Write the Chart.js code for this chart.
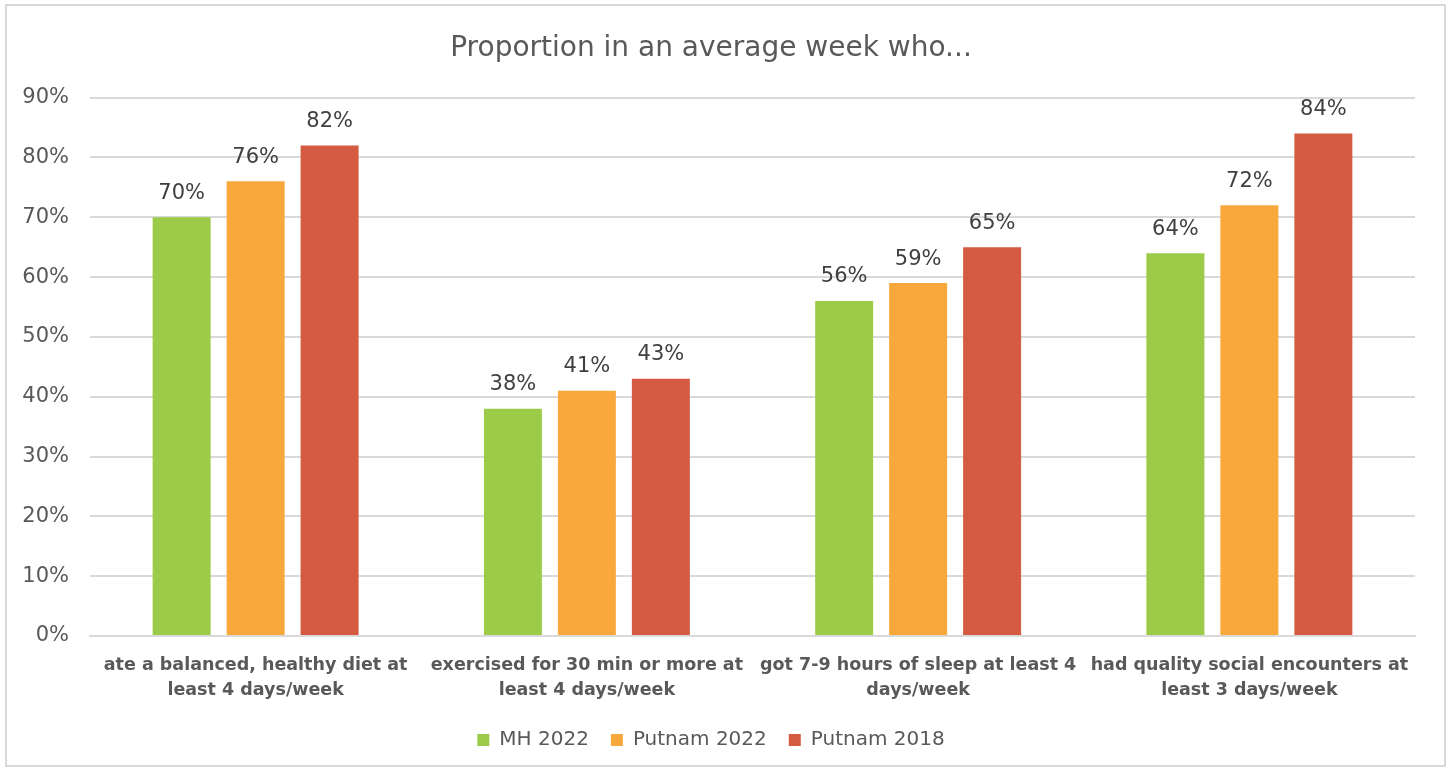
<!DOCTYPE html>
<html>
<head>
<meta charset="utf-8">
<script src="https://cdn.jsdelivr.net/npm/chart.js@4"></script>
<style>
  html, body { margin: 0; padding: 0; background: #fff; }
  #box {
    position: absolute; left: 5px; top: 4px;
    width: 1437px; height: 759px;
    border: 2px solid #d9d9d9;
  }
</style>
</head>
<body>
<div id="box"><canvas id="chart"></canvas></div>
<script>
// data
const categories = [
  ['ate a balanced, healthy diet at', 'least 4 days/week'],
  ['exercised for 30 min or more at', 'least 4 days/week'],
  ['got 7-9 hours of sleep at least 4', 'days/week'],
  ['had quality social encounters at', 'least 3 days/week']
];
const mh2022 = [70, 38, 56, 64];
const putnam2022 = [76, 41, 59, 72];
const putnam2018 = [82, 43, 65, 84];
const yTicks = [0, 10, 20, 30, 40, 50, 60, 70, 80, 90];

const fontFam = '"DejaVu Sans", sans-serif';

// draws the % labels above each bar
const barLabels = {
  id: 'barLabels',
  afterDatasetsDraw(chart) {
    const c = chart.ctx;
    c.save();
    c.font = '21px ' + fontFam;
    c.fillStyle = '#404040';
    c.textAlign = 'center';
    c.textBaseline = 'middle';
    chart.data.datasets.forEach((ds, i) => {
      chart.getDatasetMeta(i).data.forEach((bar, j) => {
        c.fillText(ds.data[j] + '%', bar.x, bar.y - 24);
      });
    });
    c.restore();
  }
};

document.addEventListener('DOMContentLoaded', () => {
  const ctx = document.getElementById('chart');
  new Chart(ctx, {
    type: 'bar',
    data: {
      labels: categories,
      datasets: [
        { label: 'MH 2022', data: mh2022, backgroundColor: '#9ccb4a' },
        { label: 'Putnam 2022', data: putnam2022, backgroundColor: '#f9a93b' },
        { label: 'Putnam 2018', data: putnam2018, backgroundColor: '#d45a41' }
      ]
    },
    options: {
      responsive: true,
      maintainAspectRatio: false,
      animation: false,
      categoryPercentage: 0.67,
      barPercentage: 0.784,
      layout: { padding: { left: 0, right: 29, top: 0, bottom: 5 } },
      scales: {
        x: {
          afterFit: (s) => { s.height = 72; },
          grid: { display: false, drawTicks: false },
          border: { color: '#d9d9d9', width: 2 },
          ticks: {
            color: '#595959',
            padding: 17,
            maxRotation: 0,
            autoSkip: false,
            font: { family: fontFam, size: 17.5, weight: 'bold', lineHeight: 25 / 17.5 }
          }
        },
        y: {
          min: 0,
          max: 90,
          afterFit: (s) => { s.width = 83; },
          afterBuildTicks: (s) => { s.ticks = yTicks.map(v => ({ value: v })); },
          grid: { color: '#d9d9d9', lineWidth: 2, drawTicks: false },
          border: { display: false },
          ticks: {
            color: '#595959',
            padding: 21,
            font: { family: fontFam, size: 21 },
            callback: (v) => v + '%'
          }
        }
      },
      plugins: {
        title: {
          display: true,
          text: 'Proportion in an average week who...',
          color: '#595959',
          font: { family: fontFam, size: 28, weight: 'normal' },
          padding: { top: 26, bottom: 32 }
        },
        legend: {
          position: 'bottom',
          labels: {
            color: '#595959',
            boxWidth: 12,
            boxHeight: 12,
            padding: 22,
            font: { family: fontFam, size: 20 }
          }
        },
        tooltip: { enabled: false }
      }
    },
    plugins: [barLabels]
  });
});
</script>
</body>
</html>
